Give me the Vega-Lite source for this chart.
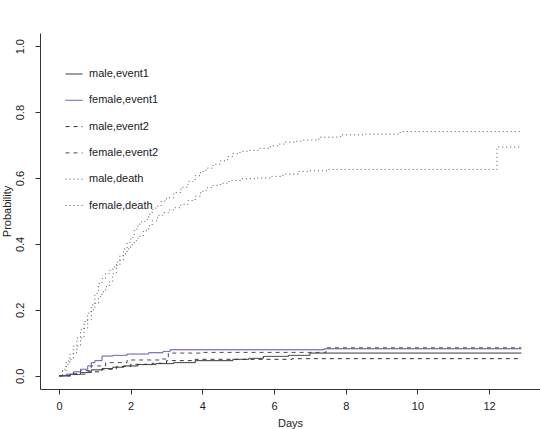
{
  "$schema": "https://vega.github.io/schema/vega-lite/v6.json",
  "width": 500,
  "height": 356,
  "autosize": "none",
  "padding": {"left": 40, "top": 33, "right": 0, "bottom": 40},
  "background": "white",
  "config": {
    "view": {"stroke": null},
    "font": "Liberation Sans",
    "axis": {
      "domainColor": "#333333",
      "tickColor": "#333333",
      "labelColor": "#222222",
      "titleColor": "#222222",
      "labelFontSize": 11,
      "titleFontSize": 11,
      "titleFontWeight": "normal",
      "grid": false,
      "tickSize": 5
    }
  },
  "data": {
    "values": [
      {"day": 0, "p": 0, "grp": "male,event1"},
      {"day": 0.3, "p": 0.004, "grp": "male,event1"},
      {"day": 0.6, "p": 0.01, "grp": "male,event1"},
      {"day": 0.9, "p": 0.018, "grp": "male,event1"},
      {"day": 1.2, "p": 0.022, "grp": "male,event1"},
      {"day": 1.5, "p": 0.026, "grp": "male,event1"},
      {"day": 1.8, "p": 0.03, "grp": "male,event1"},
      {"day": 2.2, "p": 0.034, "grp": "male,event1"},
      {"day": 2.7, "p": 0.037, "grp": "male,event1"},
      {"day": 3.2, "p": 0.04, "grp": "male,event1"},
      {"day": 3.8, "p": 0.046, "grp": "male,event1"},
      {"day": 4.85, "p": 0.05, "grp": "male,event1"},
      {"day": 5.3, "p": 0.053, "grp": "male,event1"},
      {"day": 5.7, "p": 0.059, "grp": "male,event1"},
      {"day": 6.4, "p": 0.062, "grp": "male,event1"},
      {"day": 7.0, "p": 0.069, "grp": "male,event1"},
      {"day": 12.9, "p": 0.069, "grp": "male,event1"},

      {"day": 0, "p": 0, "grp": "female,event1"},
      {"day": 0.2, "p": 0.005, "grp": "female,event1"},
      {"day": 0.4, "p": 0.012, "grp": "female,event1"},
      {"day": 0.6, "p": 0.02, "grp": "female,event1"},
      {"day": 0.8, "p": 0.03, "grp": "female,event1"},
      {"day": 0.9, "p": 0.04, "grp": "female,event1"},
      {"day": 1.0, "p": 0.046, "grp": "female,event1"},
      {"day": 1.2, "p": 0.06, "grp": "female,event1"},
      {"day": 1.5, "p": 0.062, "grp": "female,event1"},
      {"day": 1.9, "p": 0.066, "grp": "female,event1"},
      {"day": 2.5, "p": 0.07, "grp": "female,event1"},
      {"day": 2.9, "p": 0.074, "grp": "female,event1"},
      {"day": 3.1, "p": 0.079, "grp": "female,event1"},
      {"day": 7.4, "p": 0.082, "grp": "female,event1"},
      {"day": 12.9, "p": 0.082, "grp": "female,event1"},

      {"day": 0, "p": 0, "grp": "male,event2"},
      {"day": 0.4, "p": 0.005, "grp": "male,event2"},
      {"day": 0.8, "p": 0.012, "grp": "male,event2"},
      {"day": 1.2, "p": 0.02, "grp": "male,event2"},
      {"day": 1.6, "p": 0.028, "grp": "male,event2"},
      {"day": 2.0, "p": 0.035, "grp": "male,event2"},
      {"day": 2.6, "p": 0.038, "grp": "male,event2"},
      {"day": 3.0, "p": 0.046, "grp": "male,event2"},
      {"day": 3.8, "p": 0.05, "grp": "male,event2"},
      {"day": 6.5, "p": 0.052, "grp": "male,event2"},
      {"day": 12.9, "p": 0.052, "grp": "male,event2"},

      {"day": 0, "p": 0, "grp": "female,event2"},
      {"day": 0.3, "p": 0.006, "grp": "female,event2"},
      {"day": 0.6, "p": 0.016, "grp": "female,event2"},
      {"day": 0.9, "p": 0.03, "grp": "female,event2"},
      {"day": 1.3, "p": 0.04, "grp": "female,event2"},
      {"day": 1.9, "p": 0.048, "grp": "female,event2"},
      {"day": 2.8, "p": 0.051, "grp": "female,event2"},
      {"day": 3.05, "p": 0.069, "grp": "female,event2"},
      {"day": 4.0, "p": 0.071, "grp": "female,event2"},
      {"day": 7.45, "p": 0.085, "grp": "female,event2"},
      {"day": 12.9, "p": 0.085, "grp": "female,event2"},

      {"day": 0, "p": 0, "grp": "male,death"},
      {"day": 0.1, "p": 0.02, "grp": "male,death"},
      {"day": 0.2, "p": 0.045, "grp": "male,death"},
      {"day": 0.3, "p": 0.065, "grp": "male,death"},
      {"day": 0.4, "p": 0.09, "grp": "male,death"},
      {"day": 0.5, "p": 0.115, "grp": "male,death"},
      {"day": 0.6, "p": 0.14, "grp": "male,death"},
      {"day": 0.7, "p": 0.165, "grp": "male,death"},
      {"day": 0.8, "p": 0.19, "grp": "male,death"},
      {"day": 0.9, "p": 0.215, "grp": "male,death"},
      {"day": 1.0, "p": 0.25, "grp": "male,death"},
      {"day": 1.1, "p": 0.28, "grp": "male,death"},
      {"day": 1.2, "p": 0.295, "grp": "male,death"},
      {"day": 1.3, "p": 0.31, "grp": "male,death"},
      {"day": 1.4, "p": 0.32, "grp": "male,death"},
      {"day": 1.5, "p": 0.33, "grp": "male,death"},
      {"day": 1.6, "p": 0.345, "grp": "male,death"},
      {"day": 1.7, "p": 0.365, "grp": "male,death"},
      {"day": 1.8, "p": 0.385, "grp": "male,death"},
      {"day": 1.9, "p": 0.405, "grp": "male,death"},
      {"day": 2.0, "p": 0.42, "grp": "male,death"},
      {"day": 2.1, "p": 0.445, "grp": "male,death"},
      {"day": 2.2, "p": 0.46, "grp": "male,death"},
      {"day": 2.3, "p": 0.468, "grp": "male,death"},
      {"day": 2.4, "p": 0.474, "grp": "male,death"},
      {"day": 2.5, "p": 0.49, "grp": "male,death"},
      {"day": 2.6, "p": 0.505, "grp": "male,death"},
      {"day": 2.7, "p": 0.515, "grp": "male,death"},
      {"day": 2.85, "p": 0.53, "grp": "male,death"},
      {"day": 3.0, "p": 0.54, "grp": "male,death"},
      {"day": 3.2, "p": 0.556, "grp": "male,death"},
      {"day": 3.4, "p": 0.572, "grp": "male,death"},
      {"day": 3.6, "p": 0.59, "grp": "male,death"},
      {"day": 3.8, "p": 0.607, "grp": "male,death"},
      {"day": 3.95, "p": 0.62, "grp": "male,death"},
      {"day": 4.1, "p": 0.63, "grp": "male,death"},
      {"day": 4.3, "p": 0.642, "grp": "male,death"},
      {"day": 4.5, "p": 0.652, "grp": "male,death"},
      {"day": 4.7, "p": 0.665, "grp": "male,death"},
      {"day": 4.85, "p": 0.674, "grp": "male,death"},
      {"day": 5.05, "p": 0.681, "grp": "male,death"},
      {"day": 5.3, "p": 0.684, "grp": "male,death"},
      {"day": 5.6, "p": 0.69, "grp": "male,death"},
      {"day": 5.9, "p": 0.698, "grp": "male,death"},
      {"day": 6.1, "p": 0.703, "grp": "male,death"},
      {"day": 6.3, "p": 0.709, "grp": "male,death"},
      {"day": 6.6, "p": 0.712, "grp": "male,death"},
      {"day": 6.8, "p": 0.715, "grp": "male,death"},
      {"day": 7.25, "p": 0.724, "grp": "male,death"},
      {"day": 7.85, "p": 0.731, "grp": "male,death"},
      {"day": 8.5, "p": 0.733, "grp": "male,death"},
      {"day": 9.52, "p": 0.741, "grp": "male,death"},
      {"day": 12.9, "p": 0.741, "grp": "male,death"},

      {"day": 0, "p": 0, "grp": "female,death"},
      {"day": 0.1, "p": 0.015, "grp": "female,death"},
      {"day": 0.2, "p": 0.035, "grp": "female,death"},
      {"day": 0.3, "p": 0.05, "grp": "female,death"},
      {"day": 0.4, "p": 0.07, "grp": "female,death"},
      {"day": 0.5, "p": 0.09, "grp": "female,death"},
      {"day": 0.6, "p": 0.115, "grp": "female,death"},
      {"day": 0.7, "p": 0.145, "grp": "female,death"},
      {"day": 0.8, "p": 0.17, "grp": "female,death"},
      {"day": 0.9, "p": 0.2, "grp": "female,death"},
      {"day": 1.0, "p": 0.22, "grp": "female,death"},
      {"day": 1.1, "p": 0.24, "grp": "female,death"},
      {"day": 1.2, "p": 0.255, "grp": "female,death"},
      {"day": 1.3, "p": 0.27, "grp": "female,death"},
      {"day": 1.4, "p": 0.285, "grp": "female,death"},
      {"day": 1.5, "p": 0.31, "grp": "female,death"},
      {"day": 1.6, "p": 0.335, "grp": "female,death"},
      {"day": 1.7, "p": 0.352, "grp": "female,death"},
      {"day": 1.8, "p": 0.37, "grp": "female,death"},
      {"day": 1.9, "p": 0.385, "grp": "female,death"},
      {"day": 2.0, "p": 0.398, "grp": "female,death"},
      {"day": 2.1, "p": 0.41, "grp": "female,death"},
      {"day": 2.2, "p": 0.423, "grp": "female,death"},
      {"day": 2.35, "p": 0.44, "grp": "female,death"},
      {"day": 2.5, "p": 0.455, "grp": "female,death"},
      {"day": 2.6, "p": 0.47, "grp": "female,death"},
      {"day": 2.75, "p": 0.487, "grp": "female,death"},
      {"day": 2.9, "p": 0.495, "grp": "female,death"},
      {"day": 3.05, "p": 0.503, "grp": "female,death"},
      {"day": 3.2, "p": 0.51, "grp": "female,death"},
      {"day": 3.4, "p": 0.52, "grp": "female,death"},
      {"day": 3.6, "p": 0.532, "grp": "female,death"},
      {"day": 3.8, "p": 0.545, "grp": "female,death"},
      {"day": 3.95, "p": 0.56, "grp": "female,death"},
      {"day": 4.1, "p": 0.571, "grp": "female,death"},
      {"day": 4.3, "p": 0.578, "grp": "female,death"},
      {"day": 4.5, "p": 0.584, "grp": "female,death"},
      {"day": 4.75, "p": 0.593, "grp": "female,death"},
      {"day": 5.1, "p": 0.598, "grp": "female,death"},
      {"day": 5.5, "p": 0.6, "grp": "female,death"},
      {"day": 5.9, "p": 0.605, "grp": "female,death"},
      {"day": 6.25, "p": 0.612, "grp": "female,death"},
      {"day": 6.7, "p": 0.62, "grp": "female,death"},
      {"day": 7.0, "p": 0.622, "grp": "female,death"},
      {"day": 7.5, "p": 0.626, "grp": "female,death"},
      {"day": 12.22, "p": 0.694, "grp": "female,death"},
      {"day": 12.92, "p": 0.694, "grp": "female,death"}
    ]
  },
  "mark": {"type": "line", "interpolate": "step-after", "strokeWidth": 1},
  "encoding": {
    "x": {
      "field": "day",
      "type": "quantitative",
      "scale": {"domain": [-0.53, 13.42], "nice": false, "zero": false},
      "axis": {
        "title": "Days",
        "values": [0, 2, 4, 6, 8, 10, 12],
        "format": "d",
        "labelPadding": 6,
        "titlePadding": 6
      }
    },
    "y": {
      "field": "p",
      "type": "quantitative",
      "scale": {"domain": [-0.04, 1.04], "nice": false, "zero": false},
      "axis": {
        "title": "Probability",
        "values": [0, 0.2, 0.4, 0.6, 0.8, 1.0],
        "format": ".1f",
        "labelAngle": -90,
        "labelAlign": "center",
        "labelBaseline": "bottom",
        "labelPadding": 10,
        "titleX": -33,
        "titleBaseline": "middle"
      }
    },
    "color": {
      "field": "grp",
      "type": "nominal",
      "scale": {
        "domain": ["male,event1", "female,event1", "male,event2", "female,event2", "male,death", "female,death"],
        "range": ["#222222", "#4a4aa8", "#333333", "#4a4a6a", "#555555", "#555560"]
      },
      "legend": {
        "title": null,
        "orient": "none",
        "legendX": 25,
        "legendY": 32,
        "symbolType": "stroke",
        "symbolSize": 289,
        "symbolStrokeWidth": 1,
        "labelFontSize": 11,
        "labelColor": "#222222",
        "labelOffset": 6,
        "rowPadding": 12.3
      }
    },
    "strokeDash": {
      "field": "grp",
      "type": "nominal",
      "scale": {
        "domain": ["male,event1", "female,event1", "male,event2", "female,event2", "male,death", "female,death"],
        "range": [[1, 0], [1, 0], [4, 4], [4, 4], [1, 3], [1, 3]]
      },
      "legend": {
        "title": null,
        "orient": "none",
        "legendX": 25,
        "legendY": 32,
        "symbolType": "stroke",
        "symbolSize": 289,
        "symbolStrokeWidth": 1,
        "labelFontSize": 11,
        "labelColor": "#222222",
        "labelOffset": 6,
        "rowPadding": 12.3
      }
    }
  }
}
